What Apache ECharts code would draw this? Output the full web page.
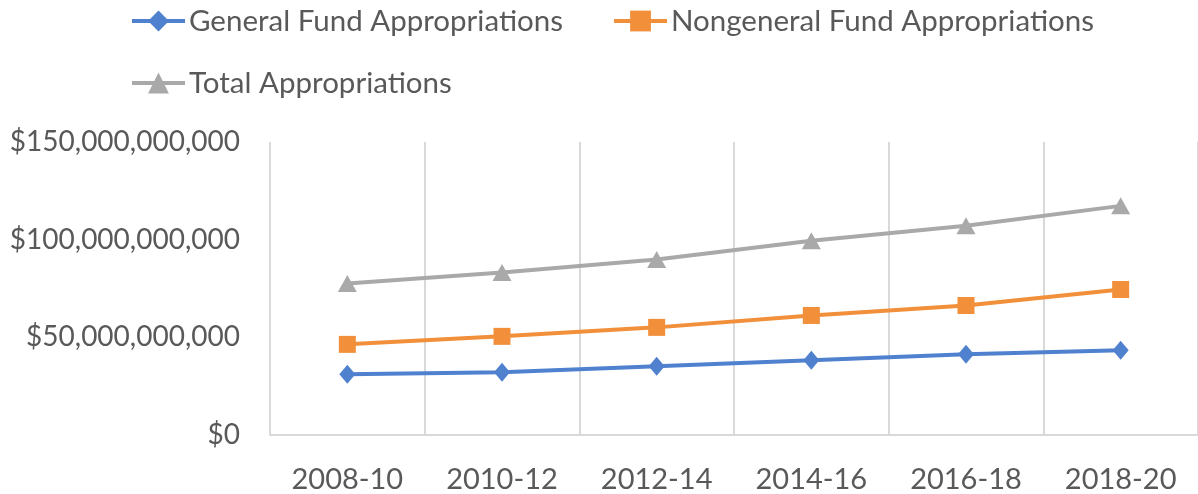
<!DOCTYPE html>
<html><head><meta charset="utf-8">
<script src="https://cdn.jsdelivr.net/npm/echarts@6/dist/echarts.min.js"></script>
<style>html,body{margin:0;padding:0;background:#fff}#c{width:1198px;height:494px}</style>
</head><body><div id="c"></div>
<script>
const categories = ['2008-10','2010-12','2012-14','2014-16','2016-18','2018-20'];
const generalFund = [31.1e9, 32.1e9, 35.2e9, 38.3e9, 41.3e9, 43.4e9];
const nongeneralFund = [46.4e9, 50.5e9, 55.1e9, 61.2e9, 66.3e9, 74.5e9];
const totalApprop = [77.6e9, 83.2e9, 89.8e9, 99.5e9, 107.1e9, 117.3e9];
const seriesNames = ['General Fund Appropriations','Nongeneral Fund Appropriations','Total Appropriations'];

const FONT = 'Lato';
const TXT = '#595959';
const chart = echarts.init(document.getElementById('c'));
function mk(name, data, color, symbol, size){
  return {name, type:'line', data, symbol, symbolSize:size,
    lineStyle:{color, width:4}, itemStyle:{color}, emphasis:{disabled:true}, animation:false};
}
const legendCommon = {left:130, padding:0, itemWidth:53, itemHeight:26,
  lineStyle:{width:4},
  textStyle:{fontFamily:FONT, fontSize:29.5, color:TXT, padding:[0,0,0,-1]}};
chart.setOption({
  animation:false,
  textStyle:{fontFamily:FONT},
  legend:[
    Object.assign({data:[seriesNames[0],seriesNames[1]], top:6, itemGap:49}, legendCommon),
    Object.assign({data:[seriesNames[2]], top:68}, legendCommon)
  ],
  grid:{left:270, top:142, bottom:58, width:930, containLabel:false},
  xAxis:{type:'category', data:categories, boundaryGap:true,
    axisLine:{show:true, lineStyle:{color:'#D9D9D9', width:2}},
    axisTick:{show:false},
    splitLine:{show:true, lineStyle:{color:'#D9D9D9', width:2}},
    axisLabel:{fontFamily:FONT, fontSize:29, color:TXT, margin:30}},
  yAxis:{type:'value', min:0, max:150e9, interval:50e9,
    axisLine:{show:false}, axisTick:{show:false}, splitLine:{show:false},
    axisLabel:{fontFamily:FONT, fontSize:28, color:TXT, margin:30,
      formatter:v=>'$'+v.toLocaleString('en-US')}},
  series:[
    mk(seriesNames[0], generalFund, '#4F81CF', 'diamond', [16,19]),
    mk(seriesNames[1], nongeneralFund, '#F18F3B', 'rect', 17),
    mk(seriesNames[2], totalApprop, '#A9A9A9', 'triangle', [19,17])
  ]
});
</script></body></html>
